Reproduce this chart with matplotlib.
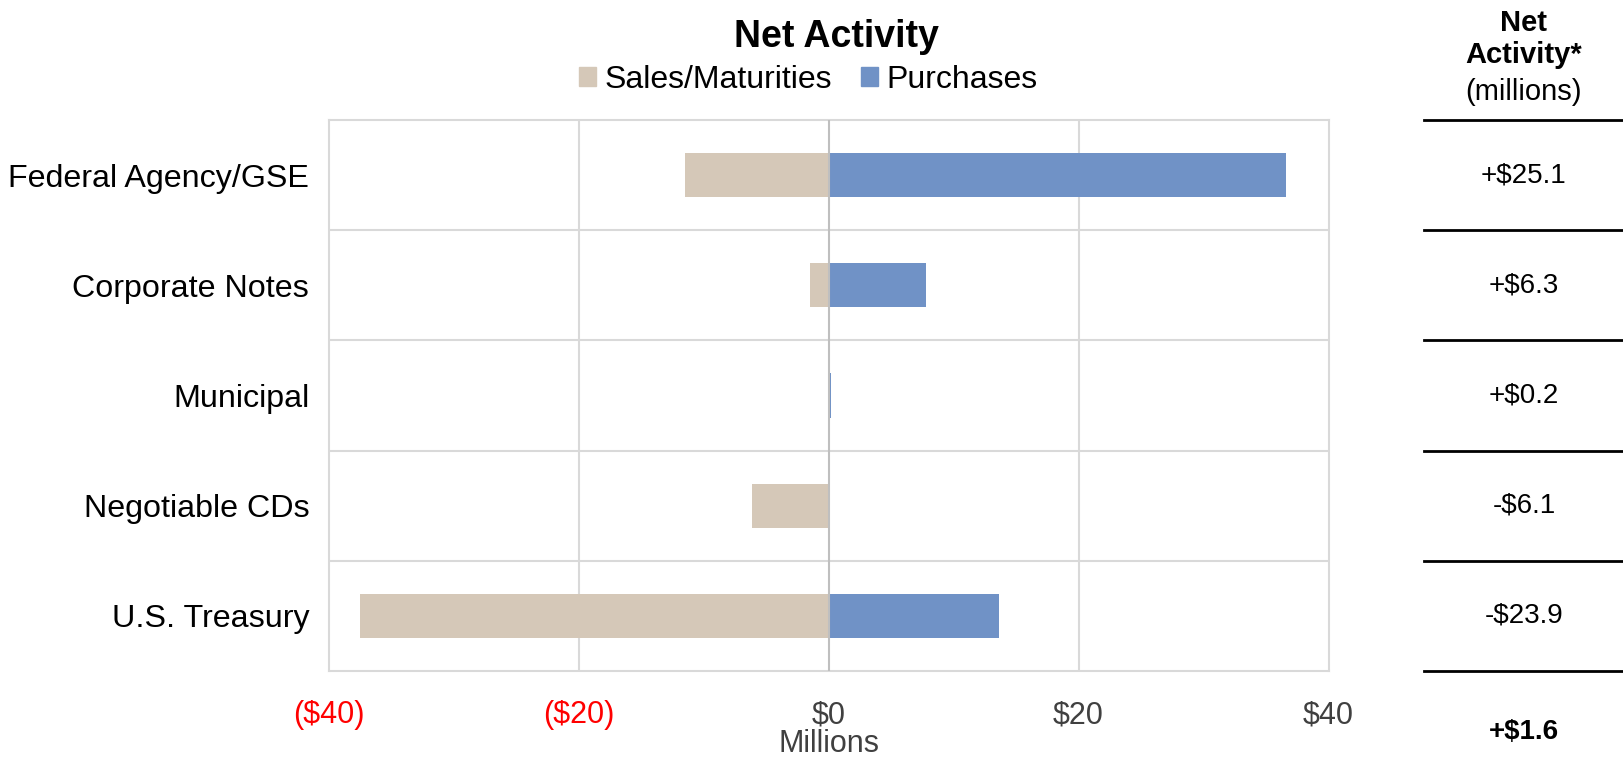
import matplotlib.pyplot as plt
from matplotlib.lines import Line2D
from matplotlib.patches import Patch
from matplotlib.ticker import FixedLocator

plt.rcParams["font.family"] = ["Liberation Sans", "DejaVu Sans"]

# Sektoren von oben nach unten
sektoren = ["Federal Agency/GSE", "Corporate Notes", "Municipal", "Negotiable CDs", "U.S. Treasury"]
verkaeufe = [-11.5, -1.5, 0.0, -6.1, -37.5]   # Sales/Maturities (Mio.)
kaeufe = [36.6, 7.8, 0.2, 0.0, 13.6]          # Purchases (Mio.)
x_ticks = [-40, -20, 0, 20, 40]
x_labels = ["($40)", "($20)", "$0", "$20", "$40"]

farbe_sales = "#D5C8B8"
farbe_kauf = "#7092C6"

netto = [k + v for k, v in zip(kaeufe, verkaeufe)]
gesamt = sum(netto)

fig = plt.figure(figsize=(16.24, 7.59), dpi=100)
ax = fig.add_axes([328.6 / 1624, 88 / 759, 1000 / 1624, 551 / 759])

y = list(range(len(sektoren)))
ax.barh(y, verkaeufe, height=0.40, color=farbe_sales, zorder=3)
ax.barh(y, kaeufe, height=0.40, color=farbe_kauf, zorder=3)

ax.set_xlim(-40, 40)
ax.set_ylim(len(sektoren) - 0.5, -0.5)
ax.set_yticks(y)
ax.set_yticklabels(sektoren, fontsize=23.2)
ax.tick_params(axis="y", length=0, pad=14)

ax.set_xticks(x_ticks)
ax.set_xticklabels(x_labels, fontsize=22)
for lab, wert in zip(ax.get_xticklabels(), x_ticks):
    lab.set_color("#FF0000" if wert < 0 else "#404040")
ax.tick_params(axis="x", length=0, pad=21)
ax.set_xlabel("Millions", fontsize=22, color="#404040", labelpad=-1)

# Gitter
ax.yaxis.set_minor_locator(FixedLocator([i + 0.5 for i in range(len(sektoren) - 1)]))
ax.grid(axis="y", which="minor", color="#D9D9D9", linewidth=1.5, zorder=0)
for xv in [-20, 20]:
    ax.axvline(xv, color="#D9D9D9", linewidth=1.5, zorder=0)
ax.axvline(0, color="#BFBFBF", linewidth=1.5, zorder=4)
ax.tick_params(axis="y", which="minor", length=0)
for s in ax.spines.values():
    s.set_color("#D9D9D9")
    s.set_linewidth(1.5)

# Titel und Legende
fig.text(836 / 1624, 1 - 37 / 759, "Net Activity", fontsize=27, fontweight="bold",
         ha="center", va="center")
handles = [Patch(color=farbe_sales, label="Sales/Maturities"),
           Patch(color=farbe_kauf, label="Purchases")]
fig.legend(handles=handles, loc="center", bbox_to_anchor=(808 / 1624, 1 - 80 / 759), ncol=2,
           frameon=False, fontsize=23, handlelength=0.55, handleheight=0.55,
           handletextpad=0.25, columnspacing=0.9)

# Tabelle rechts
tab = fig.add_axes([1424 / 1624, 88 / 759, 200 / 1624, 551 / 759], sharey=ax)
tab.set_xlim(0, 1)
tab.axis("off")
for i in range(len(sektoren) + 1):
    tab.add_line(Line2D([0, 1], [i - 0.5, i - 0.5], color="black", linewidth=2, clip_on=False))
for i, n in enumerate(netto):
    tab.text(0.5, i, f"{'+' if n >= 0 else '-'}${abs(n):.1f}", ha="center", va="center",
             fontsize=20)
tab.text(0.5, len(sektoren) + 0.05, f"{'+' if gesamt >= 0 else '-'}${abs(gesamt):.1f}",
         ha="center", va="center", fontsize=20, fontweight="bold")

fig.text(1524 / 1624, 1 - 23 / 759, "Net", fontsize=21, fontweight="bold", ha="center", va="center")
fig.text(1524 / 1624, 1 - 55 / 759, "Activity*", fontsize=21, fontweight="bold", ha="center", va="center")
fig.text(1524 / 1624, 1 - 92 / 759, "(millions)", fontsize=21, ha="center", va="center")

fig.savefig("out.png", dpi=100)
